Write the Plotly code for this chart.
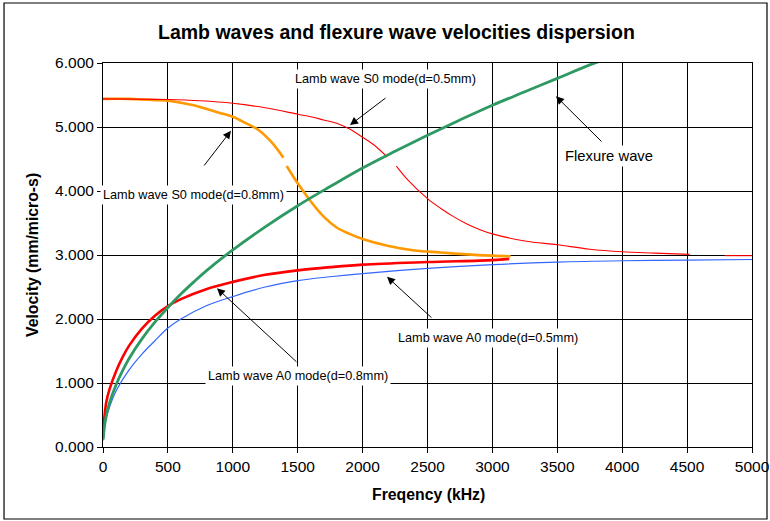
import plotly.graph_objects as go

# ---- data ----
flex_f = [2, 10, 25, 50, 100, 150, 200, 300, 400, 500, 600, 700, 800, 1000, 1250, 1500,
          1750, 2000, 2250, 2500, 2750, 3000, 3250, 3500, 3750, 3900]
flex_v = [0.12, 0.3, 0.49, 0.69, 0.97, 1.19, 1.38, 1.69, 1.95, 2.18, 2.39, 2.58, 2.76, 3.08,
          3.44, 3.77, 4.07, 4.36, 4.62, 4.87, 5.11, 5.34, 5.55, 5.76, 5.97, 6.08]

a0_08_f = [0, 10, 25, 50, 100, 150, 200, 300, 400, 500, 600, 800, 1000, 1250, 1500, 1750,
           2000, 2500, 3000, 3130]
a0_08_v = [0.22, 0.45, 0.7, 0.9, 1.18, 1.4, 1.58, 1.85, 2.05, 2.2, 2.31, 2.47, 2.58, 2.69,
           2.76, 2.81, 2.85, 2.89, 2.92, 2.94]

a0_05_f = [0, 10, 25, 50, 100, 200, 300, 400, 500, 600, 800, 1000, 1250, 1500, 1750, 2000,
           2500, 3000, 3500, 4000, 4500, 5000]
a0_05_v = [0.1, 0.3, 0.45, 0.62, 0.87, 1.2, 1.45, 1.66, 1.86, 2.0, 2.21, 2.35, 2.5, 2.6,
           2.66, 2.71, 2.79, 2.85, 2.89, 2.91, 2.92, 2.93]

s0_08_f = [0, 200, 300, 400, 500, 600, 700, 800, 900, 1000, 1100, 1200, 1300, 1390, None,
           1415, 1500, 1600, 1700, 1800, 1900, 2000, 2200, 2400, 2600, 2800, 3000, 3140]
s0_08_v = [5.44, 5.44, 5.43, 5.42, 5.41, 5.38, 5.34, 5.28, 5.22, 5.16, 5.06, 4.95, 4.76,
           4.52, None, 4.39, 4.12, 3.84, 3.6, 3.43, 3.33, 3.25, 3.14, 3.07, 3.04, 3.01, 2.99,
           2.98]

s0_05_f = [0, 500, 750, 1000, 1250, 1500, 1600, 1700, 1800, 1900, 2000, 2100, 2190, None,
           2260, 2350, 2500, 2600, 2700, 2800, 2900, 3000, 3250, 3500, 3750, 4000, 4250,
           4520, None, 4790, 5000]
s0_05_v = [5.44, 5.43, 5.41, 5.37, 5.30, 5.2, 5.16, 5.11, 5.06, 4.97, 4.84, 4.70, 4.53, None,
           4.39, 4.17, 3.88, 3.73, 3.6, 3.49, 3.4, 3.33, 3.22, 3.16, 3.09, 3.05, 3.03, 3.01,
           None, 2.99, 2.99]

x_ticks = [0, 500, 1000, 1500, 2000, 2500, 3000, 3500, 4000, 4500, 5000]
y_ticks = [0, 1, 2, 3, 4, 5, 6]

title_text = "Lamb waves and flexure wave velocities dispersion"
x_title = "Freqency (kHz)"
y_title = "Velocity (mm/micro-s)"

# labels: (text, text_x, text_y, tail_x, tail_y, head_x, head_y, font size)
labels = [
    ("Lamb wave S0 mode(d=0.5mm)", 2173, 5.75, 2188, 5.47, 1903, 5.03, 12.7),
    ("Lamb wave S0 mode(d=0.8mm)", 701, 3.94, 770, 4.375, 986, 4.94, 12.7),
    ("Flexure wave", 3898, 4.55, 3852, 4.75, 3490, 5.48, 14.8),
    ("Lamb wave A0 mode(d=0.8mm)", 1502, 1.11, 1502, 1.31, 878, 2.48, 12.7),
    ("Lamb wave A0 mode(d=0.5mm)", 2966, 1.70, 2542, 2.0, 2188, 2.66, 12.7),
]

FONT = "Arial, Liberation Sans, sans-serif"

fig = go.Figure()
fig.add_trace(go.Scatter(x=a0_05_f, y=a0_05_v, mode="lines", line_shape="spline",
                         line=dict(color="#3366FF", width=1.2), name="A0 0.5"))
fig.add_trace(go.Scatter(x=a0_08_f, y=a0_08_v, mode="lines", line_shape="spline",
                         line=dict(color="#FF0000", width=2.6), name="A0 0.8"))
fig.add_trace(go.Scatter(x=s0_08_f, y=s0_08_v, mode="lines", connectgaps=False,
                         line_shape="spline",
                         line=dict(color="#FF9900", width=2.6), name="S0 0.8"))
fig.add_trace(go.Scatter(x=s0_05_f, y=s0_05_v, mode="lines", connectgaps=False,
                         line_shape="spline",
                         line=dict(color="#FF0000", width=1.1), name="S0 0.5"))
fig.add_trace(go.Scatter(x=flex_f, y=flex_v, mode="lines", line_shape="spline",
                         line=dict(color="#2E9962", width=2.8), name="Flexure"))

annotations = []
for text, tx, ty, ax, ay, hx, hy, fs in labels:
    annotations.append(dict(x=hx, y=hy, ax=ax, ay=ay, xref="x", yref="y",
                            axref="x", ayref="y", text="", showarrow=True,
                            arrowhead=2, arrowsize=1.6, arrowwidth=1,
                            arrowcolor="#000000", standoff=0, startstandoff=0))
    annotations.append(dict(x=tx, y=ty, xref="x", yref="y", text=text,
                            showarrow=False, bgcolor="#FFFFFF",
                            font=dict(family=FONT, size=fs, color="#000000"),
                            xanchor="center", yanchor="middle", borderpad=2))

annotations.append(dict(x=0.453, y=1.0807, xref="paper", yref="paper", text="<b>" + title_text + "</b>",
                        showarrow=False, font=dict(family=FONT, size=19.5, color="#000000"),
                        xanchor="center", yanchor="middle"))
annotations.append(dict(x=0.502, y=-0.1224, xref="paper", yref="paper", text="<b>" + x_title + "</b>",
                        showarrow=False, font=dict(family=FONT, size=15.8, color="#000000"),
                        xanchor="center", yanchor="middle"))
annotations.append(dict(x=-0.1094, y=0.5, xref="paper", yref="paper", text="<b>" + y_title + "</b>",
                        showarrow=False, textangle=-90,
                        font=dict(family=FONT, size=15.8, color="#000000"),
                        xanchor="center", yanchor="middle"))

fig.update_layout(
    width=770, height=521,
    margin=dict(l=103, r=18, t=63, b=74, autoexpand=False),
    paper_bgcolor="#FFFFFF", plot_bgcolor="#FFFFFF",
    showlegend=False,
    annotations=annotations,
    font=dict(family=FONT, size=15.5, color="#000000"),
    shapes=[dict(type="rect", xref="paper", yref="paper",
                 x0=-0.1525, x1=1.0231, y0=-0.1875, y1=1.15625,
                 line=dict(color="#000000", width=1.2), fillcolor="rgba(0,0,0,0)")],
)
fig.update_xaxes(range=[0, 5000], tickvals=x_ticks, ticktext=[str(v) for v in x_ticks],
                 showgrid=True, gridcolor="#000000", gridwidth=1, automargin=False,
                 showline=True, linecolor="#000000", linewidth=1, mirror=True,
                 ticks="outside", ticklen=5, tickcolor="#000000", zeroline=False,
                 tickfont=dict(family=FONT, size=15.5, color="#000000"))
fig.update_yaxes(range=[0, 6], tickvals=y_ticks, ticktext=["%.3f" % v for v in y_ticks],
                 showgrid=True, gridcolor="#000000", gridwidth=1, automargin=False,
                 showline=True, linecolor="#000000", linewidth=1, mirror=True,
                 ticks="outside", ticklen=5, tickcolor="#000000", zeroline=False,
                 tickfont=dict(family=FONT, size=15.5, color="#000000"))

fig.write_html("out.html")
